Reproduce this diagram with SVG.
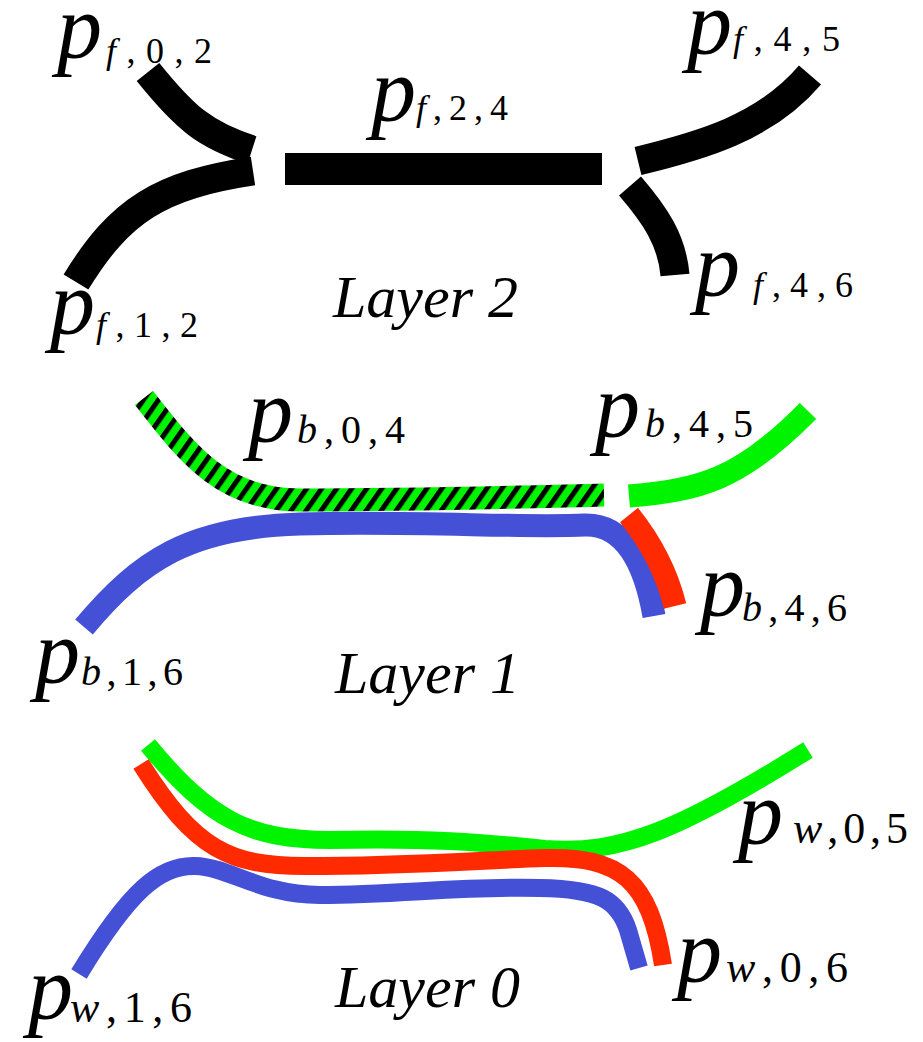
<svg xmlns="http://www.w3.org/2000/svg" width="923" height="1042" viewBox="0 0 923 1042">
  <defs>
    <!-- green band with black diagonal hatching -->
    <pattern id="hatch" width="12.3" height="40" patternUnits="userSpaceOnUse" patternTransform="rotate(35)">
      <rect width="12.3" height="40" fill="#00f400"/>
      <rect width="5" height="40" fill="#000"/>
    </pattern>
  </defs>
  <rect width="923" height="1042" fill="#fff"/>

  <!-- Layer 2: black routes -->
  <g id="connectors-layer2" fill="none" stroke="#000" stroke-width="29">
    <path id="pf02" d="M148,72 C185,118 205,135 252,150"/>
    <path id="pf12" d="M76,282 C120,210 160,185 253,171"/>
    <rect id="pf24" x="285" y="153" width="317" height="32" fill="#000" stroke="none"/>
    <path id="pf45" d="M638,161 C700,146 765,128 810,75"/>
    <path id="pf46" d="M630,186 C655,215 672,240 675,275"/>
  </g>

  <!-- Layer 1 routes -->
  <g id="connectors-layer1" fill="none" stroke-width="23">
    <path id="pb04" stroke="url(#hatch)" d="M144,398 C185,450 220,500 300,500 C420,500 520,497 604,495"/>
    <path id="pb45" stroke="#00f400" d="M629,496 C700,490 740,480 808,411"/>
    <path id="pb16" stroke="#4450d5" d="M84,627 C140,560 190,527 300,524 C420,521 520,528 585,525 C625,524 645,565 654,616"/>
    <path id="pb46" stroke="#ff2a00" d="M629,515 C645,535 665,565 675,606"/>
  </g>

  <!-- Layer 0 routes -->
  <g id="connectors-layer0" fill="none" stroke-width="18">
    <path id="pw05" stroke="#00f400" d="M148,745 C210,820 250,840 330,840 C430,838 480,842 545,849 C620,855 680,830 808,750"/>
    <path id="pw16" stroke="#4450d5" d="M79,974 C130,890 160,865 195,866 C230,867 260,895 320,895 C400,895 460,886 540,888 C600,889 618,900 628,930 L639,968"/>
    <path id="pw06" stroke="#ff2a00" d="M141,764 C195,850 230,866 305,866 C410,866 480,860 545,858 C620,856 650,880 663,965"/>
  </g>

  <g id="labels" fill="#000" font-family="Liberation Serif">
    <!-- Layer 2 labels -->
    <g id="label-pf02">
      <text font-style="italic" font-size="90" x="57" y="58">p</text>
      <text font-size="36" x="106" y="63" textLength="106" lengthAdjust="spacing"><tspan font-style="italic">f</tspan>,0,2</text>
    </g>
    <g id="label-pf24">
      <text font-style="italic" font-size="90" x="371" y="121">p</text>
      <text font-size="36" x="416" y="120" textLength="92" lengthAdjust="spacing"><tspan font-style="italic">f</tspan>,2,4</text>
    </g>
    <g id="label-pf45">
      <text font-style="italic" font-size="90" x="687" y="54">p</text>
      <text font-size="36" x="733" y="51" textLength="107" lengthAdjust="spacing"><tspan font-style="italic">f</tspan>,4,5</text>
    </g>
    <g id="label-pf46">
      <text font-style="italic" font-size="90" x="695" y="296">p</text>
      <text font-size="36" x="753" y="297" textLength="100" lengthAdjust="spacing"><tspan font-style="italic">f</tspan>,4,6</text>
    </g>
    <g id="label-pf12">
      <text font-style="italic" font-size="90" x="50" y="334">p</text>
      <text font-size="36" x="96" y="337" textLength="102" lengthAdjust="spacing"><tspan font-style="italic">f</tspan>,1,2</text>
    </g>
    <text id="label-layer2" font-style="italic" font-size="60" x="333" y="317">Layer 2</text>

    <!-- Layer 1 labels -->
    <g id="label-pb04">
      <text font-style="italic" font-size="90" x="248" y="442">p</text>
      <text font-size="40" x="297" y="443" textLength="108" lengthAdjust="spacing"><tspan font-style="italic">b</tspan>,0,4</text>
    </g>
    <g id="label-pb45">
      <text font-style="italic" font-size="90" x="595" y="437">p</text>
      <text font-size="40" x="645" y="437" textLength="108" lengthAdjust="spacing"><tspan font-style="italic">b</tspan>,4,5</text>
    </g>
    <g id="label-pb46">
      <text font-style="italic" font-size="90" x="700" y="616">p</text>
      <text font-size="40" x="742" y="621" textLength="105" lengthAdjust="spacing"><tspan font-style="italic">b</tspan>,4,6</text>
    </g>
    <g id="label-pb16">
      <text font-style="italic" font-size="90" x="35" y="683">p</text>
      <text font-size="40" x="81" y="685" textLength="102" lengthAdjust="spacing"><tspan font-style="italic">b</tspan>,1,6</text>
    </g>
    <text id="label-layer1" font-style="italic" font-size="60" x="335" y="693">Layer 1</text>

    <!-- Layer 0 labels -->
    <g id="label-pw05">
      <text font-style="italic" font-size="90" x="738" y="844">p</text>
      <text font-size="44" x="793" y="843" textLength="115" lengthAdjust="spacing"><tspan font-style="italic">w</tspan>,0,5</text>
    </g>
    <g id="label-pw06">
      <text font-style="italic" font-size="90" x="677" y="982">p</text>
      <text font-size="44" x="726" y="982" textLength="122" lengthAdjust="spacing"><tspan font-style="italic">w</tspan>,0,6</text>
    </g>
    <g id="label-pw16">
      <text font-style="italic" font-size="90" x="28" y="1019">p</text>
      <text font-size="44" x="70" y="1022" textLength="122" lengthAdjust="spacing"><tspan font-style="italic">w</tspan>,1,6</text>
    </g>
    <text id="label-layer0" font-style="italic" font-size="60" x="335" y="1007">Layer 0</text>
  </g>
</svg>
